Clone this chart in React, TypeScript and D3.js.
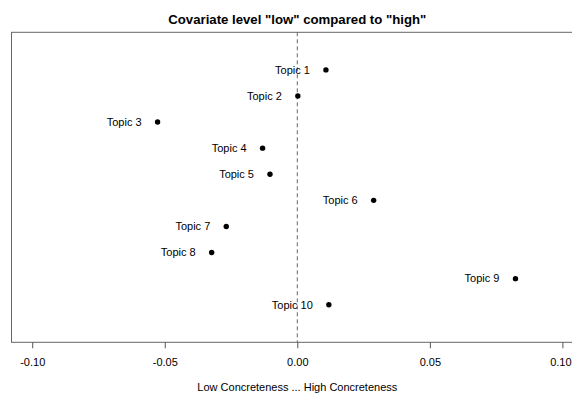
import React, { useEffect, useRef } from 'react';
import * as d3 from 'd3';

// topic labels and their estimated differences ("low" minus "high")
const topics = ['Topic 1', 'Topic 2', 'Topic 3', 'Topic 4', 'Topic 5', 'Topic 6', 'Topic 7', 'Topic 8', 'Topic 9', 'Topic 10'];
const estimates = [0.0108, 0.0002, -0.0527, -0.0131, -0.0103, 0.0288, -0.0268, -0.0323, 0.0823, 0.0119];
const xTicks = [-0.1, -0.05, 0, 0.05, 0.1];

const App: React.FC = () => {
  const svgRef = useRef<SVGSVGElement | null>(null);

  useEffect(() => {
    if (!svgRef.current) return;
    const margin = { top: 32.3, left: 11, bottom: 342.3 };
    const font = '"Liberation Sans", Arial, Helvetica, sans-serif';
    const fs = '11px';

    const svg = d3.select(svgRef.current);
    svg.selectAll('*').remove();

    // R style: xlim c(-0.1, 0.1) and ylim c(0, 11), each expanded by 4%
    const x = d3.scaleLinear().domain([-0.108, 0.108]).range([margin.left, 583.6]);
    const y = d3.scaleLinear().domain([-0.44, 11.44]).range([margin.bottom, margin.top]);

    // title
    svg
      .append('text')
      .attr('x', x(0))
      .attr('y', 23.5)
      .attr('text-anchor', 'middle')
      .attr('font-family', font)
      .attr('font-weight', 'bold')
      .attr('font-size', '13.2px')
      .text('Covariate level "low" compared to "high"');

    // zero reference line
    svg
      .append('line')
      .attr('x1', x(0))
      .attr('x2', x(0))
      .attr('y1', margin.top)
      .attr('y2', margin.bottom)
      .attr('stroke', '#666')
      .attr('stroke-dasharray', '4,3');

    // plot box (right side runs off the page, as in the original)
    svg
      .append('rect')
      .attr('x', margin.left + 0.5)
      .attr('y', margin.top)
      .attr('width', x(0.108) - margin.left)
      .attr('height', margin.bottom - margin.top)
      .attr('fill', 'none')
      .attr('stroke', '#666')
      .attr('stroke-width', 1);

    // x axis
    const axis = svg
      .append('g')
      .attr('transform', `translate(0, ${margin.bottom})`)
      .call(
        d3
          .axisBottom(x)
          .tickValues(xTicks)
          .tickSize(6)
          .tickPadding(10)
          .tickFormat(d3.format('.2f'))
      );
    axis.select('.domain').remove();
    axis.selectAll('line').attr('stroke', '#555');
    axis
      .selectAll('text')
      .attr('font-family', font)
      .attr('font-size', fs)
      .attr('fill', '#000')
      .text(d => d3.format('.2f')(d as number).replace('−', '-'));
    // keep the last label inside the page
    axis
      .selectAll<SVGTextElement, number>('text')
      .filter(d => d === 0.1)
      .attr('dx', -2);

    // x label
    svg
      .append('text')
      .attr('x', x(0))
      .attr('y', 391)
      .attr('text-anchor', 'middle')
      .attr('font-family', font)
      .attr('font-size', fs)
      .text('Low Concreteness ... High Concreteness');

    // points and labels
    topics.forEach((t, i) => {
      const cx = x(estimates[i]);
      const cy = y(topics.length - i);
      svg.append('circle').attr('cx', cx).attr('cy', cy).attr('r', 2.7).attr('fill', '#000');
      svg
        .append('text')
        .attr('x', cx - 16)
        .attr('y', cy)
        .attr('dy', '0.35em')
        .attr('text-anchor', 'end')
        .attr('font-family', font)
        .attr('font-size', fs)
        .text(t);
    });
  }, []);

  return (
    <svg
      ref={svgRef}
      width={572}
      height={394}
      style={{ position: 'absolute', left: 0, top: 0, background: '#fff' }}
    />
  );
};

export default App;
